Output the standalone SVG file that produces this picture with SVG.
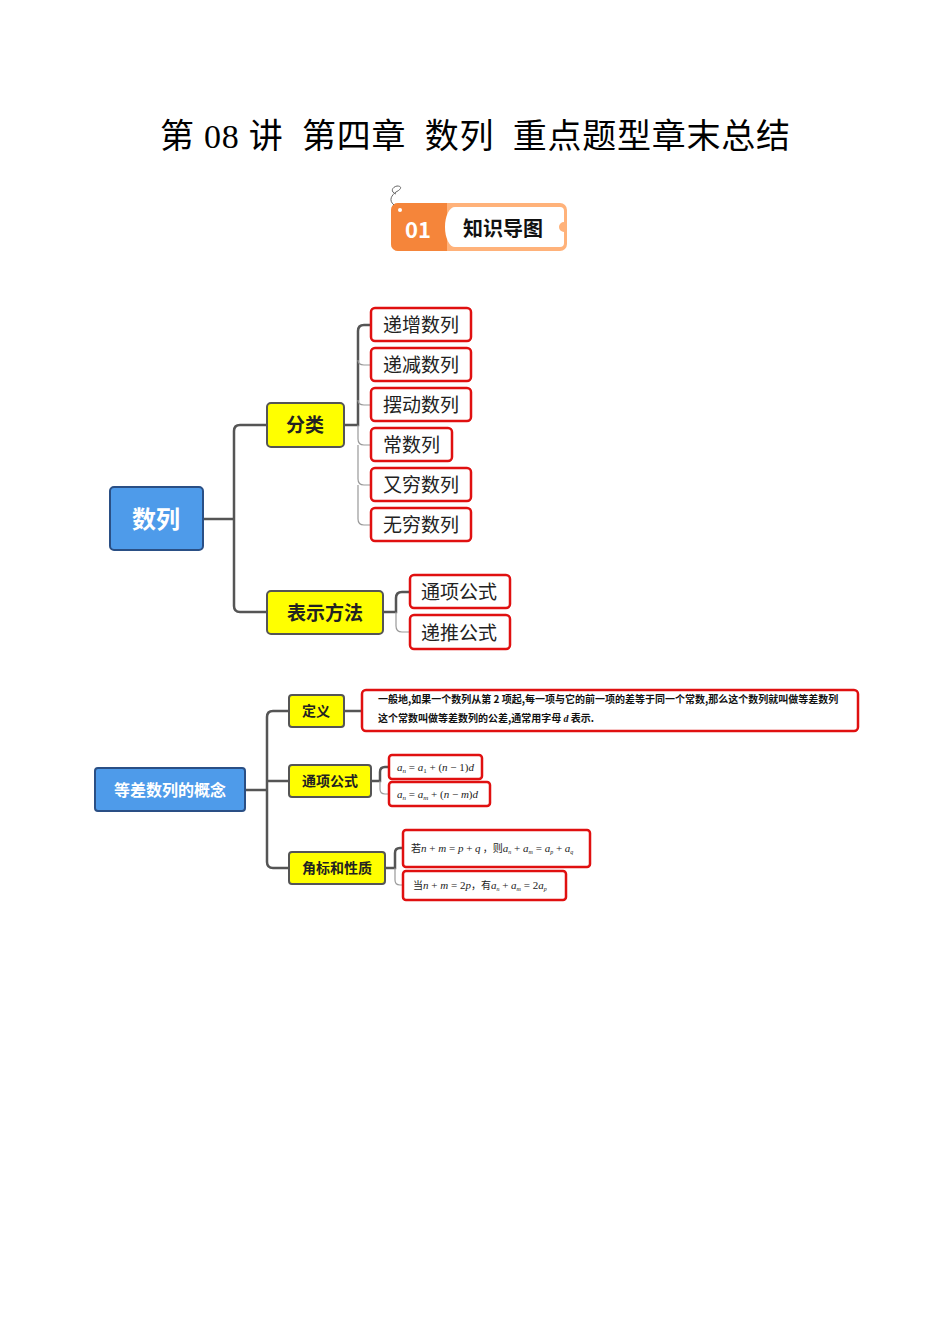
<svg xmlns="http://www.w3.org/2000/svg" width="950" height="1344" viewBox="0 0 950 1344">
<style>
.title{font-family:"Liberation Serif","Noto Sans CJK SC",serif;font-size:34px;fill:#000}
.blue{fill:#4E9BEA;stroke:#2A4F85;stroke-width:2}
.yel{fill:#FFFF00;stroke:#555;stroke-width:2}
.red{fill:#fff;stroke:#E01010;stroke-width:2.5}
.bt{font-family:"Noto Sans CJK SC",sans-serif;font-weight:bold;fill:#fff;text-anchor:middle}
.yt{font-family:"Noto Sans CJK SC",sans-serif;font-weight:bold;fill:#222;text-anchor:middle}
.rt{font-family:"Noto Sans CJK SC",sans-serif;fill:#222;font-size:19px}
.small{font-family:"Noto Sans CJK SC",sans-serif;font-weight:bold;fill:#111;font-size:10px}
.m{font-family:"Liberation Serif","Noto Sans CJK SC",serif;font-size:11px;fill:#222}
.mi{font-style:italic}
.thick{fill:none;stroke:#555;stroke-width:2.5}
.thin{fill:none;stroke:#999;stroke-width:1.2}
</style>
<rect width="950" height="1344" fill="#fff"/>
<text class="title" x="160" y="148" xml:space="preserve" textLength="630" lengthAdjust="spacing">第 08 讲  第四章  数列  重点题型章末总结</text>

<g id="badge">
<rect x="391" y="203" width="176" height="48" rx="7" fill="#FFB27A"/>
<path d="M398 203 H447 V251 H398 A7 7 0 0 1 391 244 V210 A7 7 0 0 1 398 203 Z" fill="#F5853A"/>
<path d="M455 207 H560 A4 4 0 0 1 564 211 V222 A5 5 0 0 0 564 232 V243 A4 4 0 0 1 560 247 H455 A10 20 0 0 1 455 207 Z" fill="#fff"/>
<circle cx="400" cy="210" r="2" fill="#fff"/>
<path d="M394 205 C388 200 392 195 396 192 C402 189 402 186 397 186 C392 187 390 192 396 194" fill="none" stroke="#666" stroke-width="1"/>
<text x="418" y="238" font-family="Noto Sans CJK SC,sans-serif" font-weight="bold" font-size="22" fill="#fff" text-anchor="middle">01</text>
<text x="503" y="236" font-family="Noto Sans CJK SC,sans-serif" font-weight="bold" font-size="20" fill="#111" text-anchor="middle">知识导图</text>
</g>

<g id="connectors">
<path class="thick" d="M203 519 H234"/>
<path class="thick" d="M267 425 H240 Q234 425 234 431 V606 Q234 612 240 612 H267"/>
<path class="thick" d="M344 425 H358 V331 Q358 325 364 325 H371"/>
<path class="thin" d="M358 360 Q358 365 364 365 H371"/>
<path class="thin" d="M358 400 Q358 405 364 405 H371"/>
<path class="thin" d="M358 425 V439 Q358 445 364 445 H371"/>
<path class="thin" d="M358 445 V479 Q358 485 364 485 H371"/>
<path class="thin" d="M358 485 V519 Q358 525 364 525 H371"/>
<path class="thick" d="M383 612 H396 V598 Q396 592 402 592 H410"/>
<path class="thin" d="M396 612 V626 Q396 632 402 632 H410"/>

<path class="thick" d="M245 790 H267"/>
<path class="thick" d="M289 711 H273 Q267 711 267 717 V862 Q267 868 273 868 H289"/>
<path class="thick" d="M267 781 H289"/>
<path class="thick" d="M344 711 H362"/>
<path class="thick" d="M371 781 H380 V772 Q380 767 385 767 H389"/>
<path class="thin" d="M380 781 V789 Q380 794 385 794 H389"/>
<path class="thick" d="M385 868 H395 V853 Q395 848 400 848 H403"/>
<path class="thin" d="M395 868 V880 Q395 885 400 885 H403"/>
</g>

<g id="n-shulie"><rect class="blue" x="110" y="487" width="93" height="63" rx="4"/><text class="bt" x="156" y="528" font-size="24">数列</text></g>
<g id="n-fenlei"><rect class="yel" x="267" y="403" width="77" height="44" rx="4"/><text class="yt" x="305" y="432" font-size="19">分类</text></g>
<g id="n-biaoshi"><rect class="yel" x="267" y="591" width="116" height="43" rx="4"/><text class="yt" x="325" y="620" font-size="19">表示方法</text></g>

<g id="n-dizeng"><rect class="red" x="371" y="308" width="100" height="33" rx="4"/><text class="rt" x="383" y="332">递增数列</text></g>
<g id="n-dijian"><rect class="red" x="371" y="348" width="100" height="33" rx="4"/><text class="rt" x="383" y="372">递减数列</text></g>
<g id="n-baidong"><rect class="red" x="371" y="388" width="100" height="33" rx="4"/><text class="rt" x="383" y="412">摆动数列</text></g>
<g id="n-changshu"><rect class="red" x="371" y="428" width="81" height="33" rx="4"/><text class="rt" x="383" y="452">常数列</text></g>
<g id="n-youqiong"><rect class="red" x="371" y="468" width="100" height="33" rx="4"/><text class="rt" x="383" y="492">又穷数列</text></g>
<g id="n-wuqiong"><rect class="red" x="371" y="508" width="100" height="33" rx="4"/><text class="rt" x="383" y="532">无穷数列</text></g>
<g id="n-tongxiang"><rect class="red" x="410" y="575" width="100" height="33" rx="4"/><text class="rt" x="421" y="599">通项公式</text></g>
<g id="n-ditui"><rect class="red" x="410" y="615" width="100" height="34" rx="4"/><text class="rt" x="421" y="640">递推公式</text></g>

<g id="n-dengcha"><rect class="blue" x="95" y="768" width="150" height="43" rx="3"/><text class="bt" x="170" y="796" font-size="16">等差数列的概念</text></g>
<g id="n-dingyi"><rect class="yel" x="289" y="695" width="55" height="32" rx="3"/><text class="yt" x="316" y="716" font-size="14">定义</text></g>
<g id="n-tongxiang2"><rect class="yel" x="289" y="765" width="82" height="32" rx="3"/><text class="yt" x="330" y="786" font-size="14">通项公式</text></g>
<g id="n-jiaobiao"><rect class="yel" x="289" y="852" width="96" height="32" rx="3"/><text class="yt" x="337" y="873" font-size="14">角标和性质</text></g>

<g id="n-def"><rect class="red" x="362" y="690" width="496" height="41" rx="4"/>
<text class="small" x="378" y="703">一般地,如果一个数列从第 2 项起,每一项与它的前一项的差等于同一个常数,那么这个数列就叫做等差数列</text>
<text class="small" x="378" y="722">这个常数叫做等差数列的公差,通常用字母 <tspan class="mi" font-family="Liberation Serif,serif">d</tspan> 表示.</text></g>

<g id="n-f1"><rect class="red" x="389" y="755" width="93" height="24" rx="3"/>
<text class="m" x="397" y="771"><tspan class="mi">a</tspan><tspan class="mi" font-size="7" dy="2">n</tspan><tspan dy="-2"> = </tspan><tspan class="mi">a</tspan><tspan font-size="7" dy="2">1</tspan><tspan dy="-2"> + (</tspan><tspan class="mi">n</tspan><tspan> − 1)</tspan><tspan class="mi">d</tspan></text></g>
<g id="n-f2"><rect class="red" x="389" y="782" width="101" height="24" rx="3"/>
<text class="m" x="397" y="798"><tspan class="mi">a</tspan><tspan class="mi" font-size="7" dy="2">n</tspan><tspan dy="-2"> = </tspan><tspan class="mi">a</tspan><tspan class="mi" font-size="7" dy="2">m</tspan><tspan dy="-2"> + (</tspan><tspan class="mi">n</tspan><tspan> − </tspan><tspan class="mi">m</tspan><tspan>)</tspan><tspan class="mi">d</tspan></text></g>

<g id="n-ruo"><rect class="red" x="403" y="830" width="187" height="37" rx="3"/>
<text class="m" x="411" y="852"><tspan font-family="Noto Sans CJK SC,sans-serif" font-size="10">若</tspan><tspan class="mi">n</tspan><tspan> + </tspan><tspan class="mi">m</tspan><tspan> = </tspan><tspan class="mi">p</tspan><tspan> + </tspan><tspan class="mi">q</tspan><tspan font-family="Noto Sans CJK SC,sans-serif" font-size="10"> ，则</tspan><tspan class="mi">a</tspan><tspan class="mi" font-size="6" dy="2">n</tspan><tspan dy="-2"> + </tspan><tspan class="mi">a</tspan><tspan class="mi" font-size="6" dy="2">m</tspan><tspan dy="-2"> = </tspan><tspan class="mi">a</tspan><tspan class="mi" font-size="6" dy="2">p</tspan><tspan dy="-2"> + </tspan><tspan class="mi">a</tspan><tspan class="mi" font-size="6" dy="2">q</tspan></text></g>
<g id="n-dang"><rect class="red" x="403" y="871" width="163" height="29" rx="3"/>
<text class="m" x="413" y="889"><tspan font-family="Noto Sans CJK SC,sans-serif" font-size="10">当</tspan><tspan class="mi">n</tspan><tspan> + </tspan><tspan class="mi">m</tspan><tspan> = 2</tspan><tspan class="mi">p</tspan><tspan font-family="Noto Sans CJK SC,sans-serif" font-size="10">，有</tspan><tspan class="mi">a</tspan><tspan class="mi" font-size="6" dy="2">n</tspan><tspan dy="-2"> + </tspan><tspan class="mi">a</tspan><tspan class="mi" font-size="6" dy="2">m</tspan><tspan dy="-2"> = 2</tspan><tspan class="mi">a</tspan><tspan class="mi" font-size="6" dy="2">p</tspan></text></g>
</svg>
